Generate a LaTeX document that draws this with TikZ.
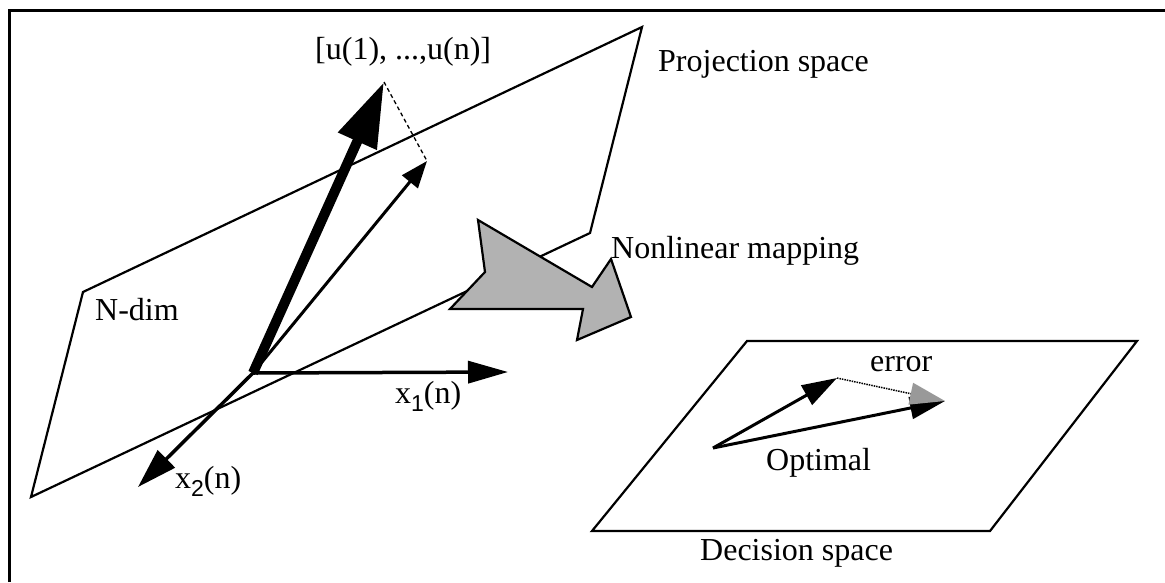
\documentclass[tikz,border=0pt]{standalone}
\usepackage{fontspec}
\setmainfont{Liberation Serif}
\newfontfamily\subfont{Liberation Sans}
\usetikzlibrary{arrows.meta}
\tikzset{
  plane/.style={line width=2.2},
  vec/.style={line width=3.5},
  lbl/.style={anchor=base west, inner sep=0pt, font=\fontsize{32}{38}\selectfont},
}
\newcommand{\idx}[1]{\raisebox{-8pt}{\subfont\fontsize{23}{23}\selectfont #1}}

\begin{document}
\begin{tikzpicture}[x=1pt,y=-1pt]
  \useasboundingbox (0,0) rectangle (1165,582);
  % frame
  \draw[line width=3] (9.5,582) -- (9.5,10) -- (1165,10);
  % projection space
  \draw[plane] (31,497) -- (590,233) -- (642,27) -- (83,292) -- cycle;
  \coordinate (O) at (253,373);
  \coordinate (x1tip) at (508,372);
  \coordinate (x2tip) at (138,487);
  \coordinate (utip) at (384,82);
  \coordinate (ptip) at (427,161);
  \draw[vec,-{Triangle[length=40pt,width=22pt]}] (O) -- (x1tip);
  \draw[vec,-{Triangle[length=40pt,width=24pt]}] (O) -- (x2tip);
  \draw[line width=3,-{Triangle[length=27pt,width=20pt]}] (O) -- (ptip);
  \draw[line width=10,-{Triangle[length=65pt,width=40pt]}] (O) -- (utip);
  \draw[line width=1.3,dash pattern=on 4pt off 3pt] (utip) -- (ptip);
  % mapping arrow
  \filldraw[fill=black!30,line width=2.2] (478,220) -- (485,272) -- (450,309) -- (583,309)
    -- (577,340) -- (631,317) -- (611,259) -- (592,287) -- cycle;
  % decision space
  \draw[plane] (592,531) -- (990,531) -- (1137,341) -- (747,341) -- cycle;
  \coordinate (d0) at (713,448);
  \coordinate (dopt) at (945,401);
  \coordinate (dest) at (837,378);
  \draw[line width=3,-{Triangle[length=35pt,width=22pt]}] (d0) -- (dopt);
  \draw[line width=3,-{Triangle[length=35pt,width=22pt]}] (d0) -- (dest);
  \draw[line width=1.5,densely dotted,-{Triangle[length=35pt,width=22pt,color=black!40]}] (dest) -- (dopt);
  % labels
  \node[lbl] (ulbl) at (315,59) {[u(1), ...,u(n)]};
  \node[lbl] (proj) at (658,71) {Projection space};
  \node[lbl] (map) at (611,258) {Nonlinear mapping};
  \node[lbl] (ndim) at (95,320) {N-dim};
  \node[lbl] (x1lbl) at (395,403) {x\idx{1}(n)};
  \node[lbl] (x2lbl) at (175,488) {x\idx{2}(n)};
  \node[lbl] (err) at (870,371) {error};
  \node[lbl] (opt) at (766,470) {Optimal};
  \node[lbl] (dec) at (700,560) {Decision space};
\end{tikzpicture}
\end{document}
